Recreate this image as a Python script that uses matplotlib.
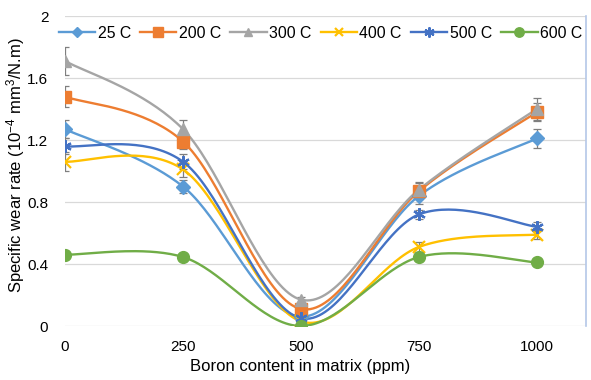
import numpy as np
import matplotlib
matplotlib.use("Agg")
import matplotlib.pyplot as plt
from matplotlib.ticker import FuncFormatter

plt.rcParams['font.family'] = ['Liberation Sans', 'DejaVu Sans']
plt.rcParams['mathtext.default'] = 'regular'

# Data
boron = [0, 250, 500, 750, 1000]
labels = ["25 C", "200 C", "300 C", "400 C", "500 C", "600 C"]
wear_25 = [1.27, 0.90, 0.06, 0.84, 1.21]
wear_200 = [1.48, 1.19, 0.11, 0.87, 1.38]
wear_300 = [1.71, 1.27, 0.17, 0.88, 1.40]
wear_400 = [1.06, 1.01, 0.03, 0.51, 0.59]
wear_500 = [1.16, 1.06, 0.05, 0.72, 0.64]
wear_600 = [0.46, 0.445, 0.00, 0.445, 0.41]
err_25 = [0.06, 0.04, 0.02, 0.05, 0.06]
err_200 = [0.07, 0.05, 0.02, 0.05, 0.06]
err_300 = [0.09, 0.06, 0.02, 0.05, 0.07]
err_400 = [0.06, 0.05, 0.01, 0.03, 0.03]
err_500 = [0.05, 0.05, 0.02, 0.03, 0.03]
err_600 = [0.01, 0.01, 0.01, 0.01, 0.01]

series = [wear_25, wear_200, wear_300, wear_400, wear_500, wear_600]
errors = [err_25, err_200, err_300, err_400, err_500, err_600]
colors = ['#5B9BD5', '#ED7D31', '#A5A5A5', '#FFC000', '#4472C4', '#70AD47']
markers = ['D', 's', '^', 'x', (6, 2, 0), 'o']
msizes = [7, 8.5, 8, 8, 9, 8.5]


def smooth(x, y, n=40):
    # Excel style smoothed line (Catmull-Rom as cubic Bezier)
    x = np.asarray(x, float)
    y = np.asarray(y, float)
    px = np.concatenate([[x[0]], x, [x[-1]]])
    py = np.concatenate([[y[0]], y, [y[-1]]])
    xs, ys = [], []
    t = np.linspace(0, 1, n)
    for i in range(1, len(px) - 2):
        b0 = np.array([px[i], py[i]])
        b3 = np.array([px[i + 1], py[i + 1]])
        b1 = b0 + (np.array([px[i + 1], py[i + 1]]) - np.array([px[i - 1], py[i - 1]])) / 6
        b2 = b3 - (np.array([px[i + 2], py[i + 2]]) - np.array([px[i], py[i]])) / 6
        pts = ((1 - t) ** 3)[:, None] * b0 + (3 * (1 - t) ** 2 * t)[:, None] * b1 \
            + (3 * (1 - t) * t ** 2)[:, None] * b2 + (t ** 3)[:, None] * b3
        xs.extend(pts[:, 0])
        ys.extend(pts[:, 1])
    return xs, ys


fig = plt.figure(figsize=(5.91, 3.80), dpi=100)
ax = fig.add_axes([65 / 591, 1 - 326 / 380, 521 / 591, 310 / 380])

for y, e, c, m, ms, lab in zip(series, errors, colors, markers, msizes, labels):
    ax.errorbar(boron, y, yerr=e, fmt='none', ecolor='#7f7f7f',
                elinewidth=0.9, capsize=3, capthick=0.9, zorder=2)
    sx, sy = smooth(boron, y)
    ax.plot(sx, sy, color=c, lw=1.7, zorder=3)
    mew = 1.6 if m in ('x',) or isinstance(m, tuple) else 1
    ax.plot(boron, y, linestyle='none', marker=m, markersize=ms, color=c,
            markeredgecolor=c, markeredgewidth=mew, zorder=4)
    ax.plot([], [], color=c, lw=1.7, marker=m, markersize=ms * 0.8,
            markeredgewidth=mew, label=lab)

ax.set_xlim(0, 1104)
ax.set_ylim(0, 2)
ax.set_xticks(boron)
ax.set_yticks([0, 0.4, 0.8, 1.2, 1.6, 2.0])
ax.yaxis.set_major_formatter(FuncFormatter(lambda v, p: '%g' % v))
ax.tick_params(length=0, labelsize=11, colors='#000000')
ax.tick_params(axis='x', pad=10)
ax.tick_params(axis='y', pad=12)
ax.grid(axis='y', color='#d9d9d9', lw=0.9)
ax.set_axisbelow(True)
for s in ['top', 'left', 'bottom']:
    ax.spines[s].set_visible(False)
ax.spines['right'].set_color('#b4c7e7')
ax.spines['right'].set_linewidth(1.2)

ax.set_xlabel('Boron content in matrix (ppm)', fontsize=12)
ax.xaxis.set_label_coords(0.451, -0.108)
ax.set_ylabel('Specific wear rate (10$^{-4}$ mm$^{3}$/N.m)', fontsize=12)
ax.yaxis.set_label_coords(-0.072, 0.52)

ax.legend(loc='center left', bbox_to_anchor=(-0.012, 0.945), ncol=6,
          frameon=False, fontsize=11.4, handlelength=2.3, handletextpad=0.15,
          columnspacing=0.58, borderaxespad=0, borderpad=0)

fig.savefig('out.png', dpi=100)
